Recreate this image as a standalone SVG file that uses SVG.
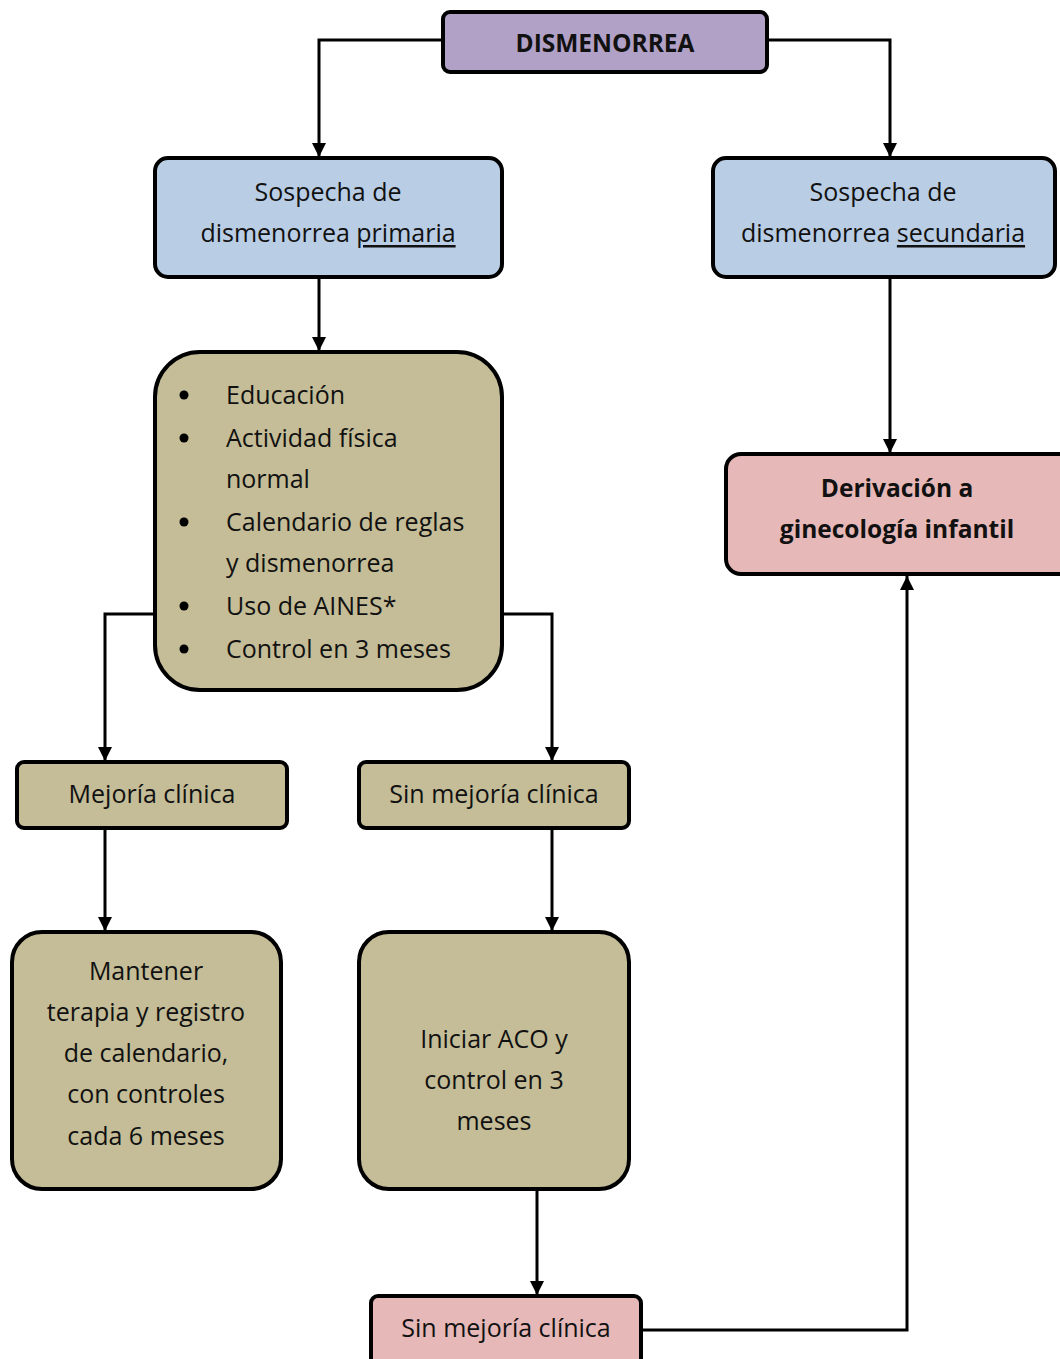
<svg xmlns="http://www.w3.org/2000/svg" width="1060" height="1359" viewBox="0 0 1060 1359">
<defs>
<marker id="ah" viewBox="0 0 14 14" markerWidth="14" markerHeight="14" refX="14" refY="7" orient="auto" markerUnits="userSpaceOnUse">
<path d="M0,0 L14,7 L0,14 z" fill="#000"/>
</marker>
<style>
.box{stroke:#000;stroke-width:4}
.pur{fill:#b2a1c7}.blu{fill:#b9cde5}.tan{fill:#c4bd97}.pnk{fill:#e6b8b7}
.t{font-family:"Open Sans","Noto Sans",sans-serif;font-size:25px;fill:#111;text-anchor:middle;dominant-baseline:central}
.b{font-weight:bold;font-size:24.5px}
.l{text-anchor:start}
.c{fill:none;stroke:#000;stroke-width:3;marker-end:url(#ah)}
</style>
</defs>
<rect width="1060" height="1359" fill="#fff"/>
<g id="connectors">
<path class="c" d="M443,40 H319 V157"/>
<path class="c" d="M767,40 H890 V157"/>
<path class="c" d="M319,278 V351"/>
<path class="c" d="M890,278 V453"/>
<path class="c" d="M155,614 H105 V761"/>
<path class="c" d="M502,614 H552 V761"/>
<path class="c" d="M105,829 V931"/>
<path class="c" d="M552,829 V931"/>
<path class="c" d="M537,1190 V1295"/>
<path class="c" d="M642,1330 H907 V576"/>
</g>
<g id="n-dismenorrea">
<rect class="box pur" x="443" y="12" width="324" height="60" rx="7"/>
<text class="t b" x="605" y="42">DISMENORREA</text>
</g>
<g id="n-primaria">
<rect class="box blu" x="155" y="158" width="347" height="119" rx="13"/>
<text class="t" x="328" y="191">Sospecha de</text>
<text class="t" x="328" y="232">dismenorrea <tspan text-decoration="underline">primaria</tspan></text>
</g>
<g id="n-secundaria">
<rect class="box blu" x="713" y="158" width="342" height="119" rx="13"/>
<text class="t" x="883" y="191">Sospecha de</text>
<text class="t" x="883" y="232">dismenorrea <tspan text-decoration="underline">secundaria</tspan></text>
</g>
<g id="n-medidas">
<rect class="box tan" x="155" y="352" width="347" height="338" rx="45"/>
<g>
<circle cx="184" cy="395" r="4.5" fill="#000"/>
<circle cx="184" cy="438" r="4.5" fill="#000"/>
<circle cx="184" cy="522" r="4.5" fill="#000"/>
<circle cx="184" cy="606" r="4.5" fill="#000"/>
<circle cx="184" cy="649" r="4.5" fill="#000"/>
</g>
<text class="t l" x="226" y="394">Educación</text>
<text class="t l" x="226" y="437">Actividad física</text>
<text class="t l" x="226" y="478">normal</text>
<text class="t l" x="226" y="521">Calendario de reglas</text>
<text class="t l" x="226" y="562">y dismenorrea</text>
<text class="t l" x="226" y="605">Uso de AINES*</text>
<text class="t l" x="226" y="648">Control en 3 meses</text>
</g>
<g id="n-derivacion">
<rect class="box pnk" x="726" y="454" width="350" height="120" rx="15"/>
<text class="t b" x="897" y="487">Derivación a</text>
<text class="t b" x="897" y="528">ginecología infantil</text>
</g>
<g id="n-mejoria">
<rect class="box tan" x="17" y="762" width="270" height="66" rx="7"/>
<text class="t" x="152" y="793">Mejoría clínica</text>
</g>
<g id="n-sinmejoria1">
<rect class="box tan" x="359" y="762" width="270" height="66" rx="7"/>
<text class="t" x="494" y="793">Sin mejoría clínica</text>
</g>
<g id="n-mantener">
<rect class="box tan" x="12" y="932" width="269" height="257" rx="30"/>
<text class="t" x="146" y="970">Mantener</text>
<text class="t" x="146" y="1011">terapia y registro</text>
<text class="t" x="146" y="1052">de calendario,</text>
<text class="t" x="146" y="1093">con controles</text>
<text class="t" x="146" y="1135">cada 6 meses</text>
</g>
<g id="n-aco">
<rect class="box tan" x="359" y="932" width="270" height="257" rx="30"/>
<text class="t" x="494" y="1038">Iniciar ACO y</text>
<text class="t" x="494" y="1079">control en 3</text>
<text class="t" x="494" y="1120">meses</text>
</g>
<g id="n-sinmejoria2">
<rect class="box pnk" x="371" y="1296" width="270" height="80" rx="7"/>
<text class="t" x="506" y="1327">Sin mejoría clínica</text>
</g>
</svg>
